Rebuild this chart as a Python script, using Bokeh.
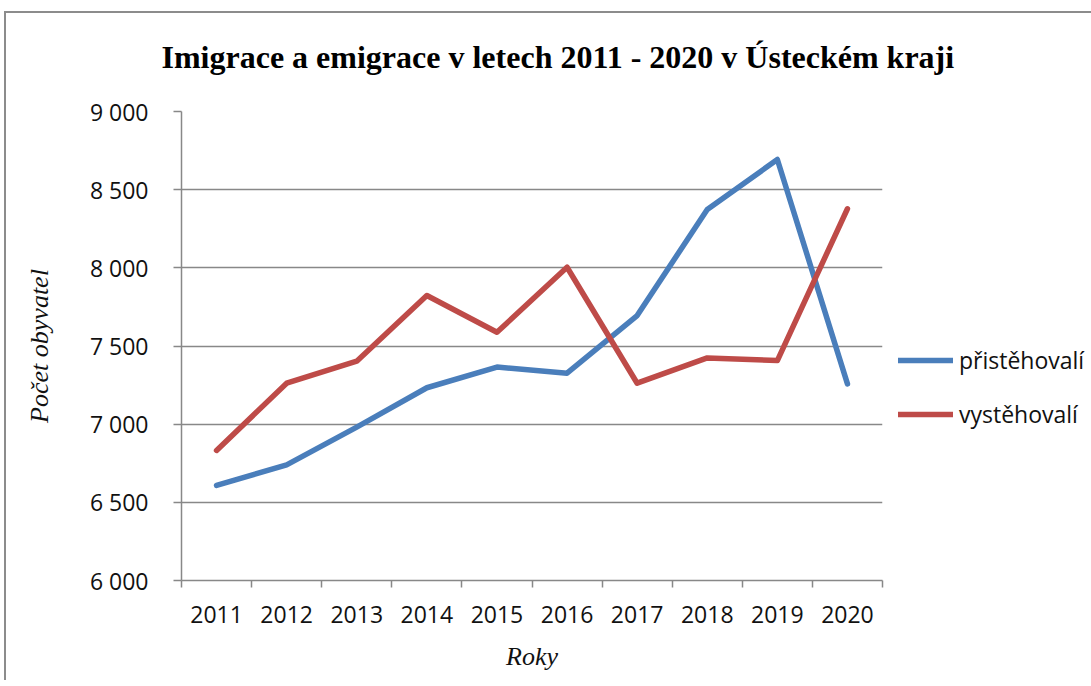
from bokeh.plotting import figure
from bokeh.models import FixedTicker, Legend, LegendItem
from bokeh.embed import file_html
from bokeh.resources import INLINE

# ---- data ----
years = [2011, 2012, 2013, 2014, 2015, 2016, 2017, 2018, 2019, 2020]
pristehovali = [6608, 6740, 6981, 7233, 7365, 7326, 7695, 8373, 8693, 7258]
vystehovali = [6832, 7262, 7403, 7823, 7588, 8004, 7262, 7424, 7407, 8378]
y_tick_values = [6000, 6500, 7000, 7500, 8000, 8500, 9000]
y_tick_labels = ["6 000", "6 500", "7 000", "7 500", "8 000", "8 500", "9 000"]
series_names = ["přistěhovalí", "vystěhovalí"]
title_text = "Imigrace a emigrace v letech 2011 - 2020 v Ústeckém kraji"
x_label = "Roky"
y_label = "Počet obyvatel"

BLUE = "#4A7EBB"
RED = "#BE4B48"
GRID = "#888888"
SANS = "Open Sans"
SERIF = "Liberation Serif"

p = figure(
    frame_width=701, frame_height=469,
    min_border_left=177, min_border_right=207,
    min_border_top=111, min_border_bottom=100,
    x_range=(years[0] - 0.5, years[-1] + 0.5),
    y_range=(y_tick_values[0], y_tick_values[-1]),
    output_backend="svg", toolbar_location=None,
    background_fill_color="white",
    title=title_text,
)
p.border_fill_color = None
p.margin = (0, 0, 0, 4)
# chart-area border (top and left edges) painted behind the transparent canvas border
p.styles = {
    "background": (
        "linear-gradient(#8c8c8c, #8c8c8c) 0px 11px / 100% 2px no-repeat, "
        "linear-gradient(#8c8c8c, #8c8c8c) 0px 11px / 2px 100% no-repeat, white"
    )
}
p.outline_line_color = None

p.title.align = "left"
p.title.offset = -20
p.title.standoff = 73
p.title.text_font = SERIF
p.title.text_font_style = "bold"
p.title.text_font_size = "32px"
p.title.text_color = "black"

# x axis: labels at category centers, ticks at category boundaries
xa = p.xaxis[0]
xa.ticker = FixedTicker(ticks=years, minor_ticks=[y - 0.5 for y in years] + [years[-1] + 0.5])
xa.major_label_overrides = {y: str(y) for y in years}
xa.major_tick_out = 0
xa.major_tick_in = 0
xa.minor_tick_out = 7
xa.minor_tick_in = 0
xa.minor_tick_line_color = GRID
xa.minor_tick_line_width = 1.5
xa.axis_line_color = GRID
xa.axis_line_width = 1.5
xa.major_label_text_font = SANS
xa.major_label_text_font_size = "23px"
xa.major_label_text_color = "#111111"
xa.major_label_standoff = 18
xa.axis_label = x_label
xa.axis_label_text_font = SERIF
xa.axis_label_text_font_style = "italic"
xa.axis_label_text_font_size = "26px"
xa.axis_label_text_color = "#111111"
xa.axis_label_standoff = 16

ya = p.yaxis[0]
ya.ticker = FixedTicker(ticks=y_tick_values, minor_ticks=[])
ya.major_label_overrides = {v: s for v, s in zip(y_tick_values, y_tick_labels)}
ya.major_tick_out = 8
ya.major_tick_in = 0
ya.major_tick_line_color = GRID
ya.major_tick_line_width = 1.5
ya.minor_tick_out = 0
ya.minor_tick_in = 0
ya.axis_line_color = GRID
ya.axis_line_width = 1.5
ya.major_label_text_font = SANS
ya.major_label_text_font_size = "23px"
ya.major_label_text_color = "#111111"
ya.major_label_standoff = 25
ya.axis_label = y_label
ya.axis_label_text_font = SERIF
ya.axis_label_text_font_style = "italic"
ya.axis_label_text_font_size = "26px"
ya.axis_label_text_color = "#111111"
ya.axis_label_standoff = 33

p.xgrid.grid_line_color = None
p.ygrid.grid_line_color = GRID
p.ygrid.grid_line_width = 1.5

r1 = p.line(years, pristehovali, line_color=BLUE, line_width=5.5,
            line_join="round", line_cap="round")
r2 = p.line(years, vystehovali, line_color=RED, line_width=5.5,
            line_join="round", line_cap="round")

legend = Legend(
    items=[LegendItem(label=series_names[0], renderers=[r1]),
           LegendItem(label=series_names[1], renderers=[r2])],
    location=(16, 150),
    border_line_color=None, background_fill_alpha=0,
    padding=0, margin=0, spacing=22,
    glyph_width=55, glyph_height=30, label_height=30,
    label_standoff=6,
    label_text_font=SANS, label_text_font_size="23px", label_text_color="#111111",
)
p.add_layout(legend, "right")

open("out.html", "w").write(file_html(p, INLINE))
